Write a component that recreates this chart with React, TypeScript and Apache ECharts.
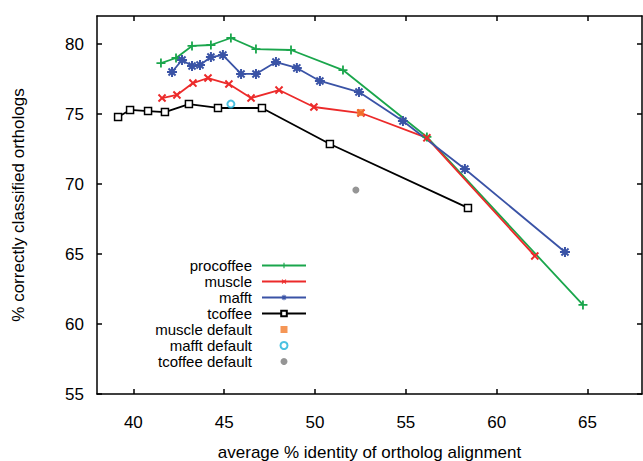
import React, { useEffect, useRef } from "react";
import * as echarts from "echarts";

const procoffee: [number, number][] = [
  [41.52, 78.64], [42.35, 79.0], [43.23, 79.86], [44.27, 79.93], [45.37, 80.43],
  [46.75, 79.64], [48.68, 79.57], [51.54, 78.14], [56.16, 73.36], [64.75, 61.36],
];
const muscle: [number, number][] = [
  [41.58, 76.14], [42.4, 76.36], [43.28, 77.21], [44.11, 77.57], [45.26, 77.14],
  [46.48, 76.14], [48.02, 76.71], [49.94, 75.5], [52.53, 75.07], [56.16, 73.3], [62.1, 64.86],
];
const mafft: [number, number][] = [
  [42.13, 78.0], [42.68, 78.86], [43.23, 78.43], [43.67, 78.5], [44.27, 79.07],
  [44.93, 79.21], [45.93, 77.86], [46.75, 77.86], [47.85, 78.71], [49.0, 78.29],
  [50.27, 77.36], [52.42, 76.57], [54.84, 74.5], [58.25, 71.07], [63.76, 65.14],
];
const tcoffee: [number, number][] = [
  [39.16, 74.79], [39.82, 75.29], [40.81, 75.21], [41.74, 75.14], [43.06, 75.71],
  [44.66, 75.43], [47.08, 75.43], [50.82, 72.86], [58.42, 68.29],
];
const muscleDefault: [number, number][] = [[52.5, 75.1]];
const mafftDefault: [number, number][] = [[45.37, 75.71]];
const tcoffeeDefault: [number, number][] = [[52.25, 69.57]];

const xTicks = [40, 45, 50, 55, 60, 65];
const yTicks = [55, 60, 65, 70, 75, 80];

const PLUS = "path://M4,0H6V4H10V6H6V10H4V6H0V4H4Z";
const STAR =
  "path://M4,0H6V4H10V6H6V10H4V6H0V4H4Z M7.83,0.76L9.24,2.17L6.41,5L9.24,7.83L7.83,9.24L5,6.41L2.17,9.24L0.76,7.83L3.59,5L0.76,2.17L2.17,0.76L5,3.59Z";
const SQUARE = "path://M0,0H10V10H0Z";

const FONT = "Liberation Sans, Arial, Helvetica, sans-serif";

export default function App() {
  const ref = useRef<HTMLDivElement>(null);
  useEffect(() => {
    document.body.style.margin = "0";
    const chart = echarts.init(ref.current!, null, { renderer: "svg" });
    const axisLine = { show: true, onZero: false, lineStyle: { color: "#000", width: 1.5 } };
    const tickStyle = { color: "#000", width: 1.5 };
    chart.setOption({
      animation: false,
      backgroundColor: "#fff",
      textStyle: { fontFamily: FONT },
      grid: { left: 97, right: 1, top: 16, bottom: 67, outerBoundsMode: "none", containLabel: false },
      legend: {
        orient: "vertical",
        align: "right",
        right: 336,
        top: 258,
        padding: 0,
        itemWidth: 44,
        itemHeight: 7,
        itemGap: 1,
        symbolKeepAspect: true,
        textStyle: { fontSize: 15, color: "#000", fontFamily: FONT, padding: [0, 5, 0, 0] },
        data: [
          "procoffee", "muscle", "mafft", "tcoffee",
          { name: "muscle default", icon: SQUARE },
          "mafft default", "tcoffee default",
        ],
      },
      xAxis: [
        {
          type: "value", min: 38, max: 68, position: "bottom",
          axisLine,
          axisTick: { show: true, inside: true, length: 5, customValues: xTicks, lineStyle: tickStyle },
          axisLabel: { customValues: xTicks, fontSize: 17, color: "#000", margin: 20, fontFamily: FONT },
          splitLine: { show: false },
          name: "average % identity of ortholog alignment",
          nameLocation: "middle",
          nameGap: 50,
          nameTextStyle: { fontSize: 17, color: "#000", fontFamily: FONT },
        },
        {
          type: "value", min: 38, max: 68, position: "top",
          axisLine,
          axisTick: { show: true, inside: true, length: 5, customValues: xTicks, lineStyle: tickStyle },
          axisLabel: { show: false },
          splitLine: { show: false },
        },
      ],
      yAxis: [
        {
          type: "value", min: 55, max: 82, position: "left",
          axisLine,
          axisTick: { show: true, inside: true, length: 5, customValues: yTicks, lineStyle: tickStyle },
          axisLabel: { customValues: yTicks, fontSize: 17, color: "#000", margin: 13, fontFamily: FONT },
          splitLine: { show: false },
          name: "% correctly classified orthologs",
          nameLocation: "middle",
          nameGap: 70,
          nameRotate: 90,
          nameTextStyle: { fontSize: 17, color: "#000", fontFamily: FONT },
        },
        {
          type: "value", min: 55, max: 82, position: "right",
          axisLine,
          axisTick: { show: true, inside: true, length: 5, customValues: yTicks, lineStyle: tickStyle },
          axisLabel: { show: false },
          splitLine: { show: false },
        },
      ],
      series: [
        {
          name: "procoffee", type: "line", data: procoffee,
          symbol: PLUS, symbolSize: 9, showAllSymbol: true,
          lineStyle: { color: "#1aa64c", width: 1.8 },
          itemStyle: { color: "#1aa64c" },
        },
        {
          name: "muscle", type: "line", data: muscle,
          symbol: PLUS, symbolSize: 10, symbolRotate: 45, showAllSymbol: true,
          lineStyle: { color: "#ec2a2a", width: 1.8 },
          itemStyle: { color: "#ec2a2a" },
        },
        {
          name: "mafft", type: "line", data: mafft,
          symbol: STAR, symbolSize: 10, showAllSymbol: true,
          lineStyle: { color: "#3a53a6", width: 1.8 },
          itemStyle: { color: "#3a53a6" },
        },
        {
          name: "tcoffee", type: "line", data: tcoffee,
          symbol: "rect", symbolSize: 7, showAllSymbol: true,
          lineStyle: { color: "#000", width: 1.8 },
          itemStyle: { color: "#fff", borderColor: "#000", borderWidth: 1.5 },
        },
        {
          name: "muscle default", type: "scatter", data: muscleDefault, z: 10,
          symbol: SQUARE, symbolSize: 7,
          itemStyle: { color: "#f27c2c" },
        },
        {
          name: "mafft default", type: "scatter", data: mafftDefault, z: 10,
          symbol: "circle", symbolSize: 7,
          itemStyle: { color: "#fff", borderColor: "#1eb2d9", borderWidth: 2 },
        },
        {
          name: "tcoffee default", type: "scatter", data: tcoffeeDefault, z: 10,
          symbol: "circle", symbolSize: 7,
          itemStyle: { color: "#7a7a7a" },
        },
      ],
    });
    return () => chart.dispose();
  }, []);
  return <div ref={ref} style={{ position: "fixed", left: 0, top: 0, width: 643, height: 461 }} />;
}
